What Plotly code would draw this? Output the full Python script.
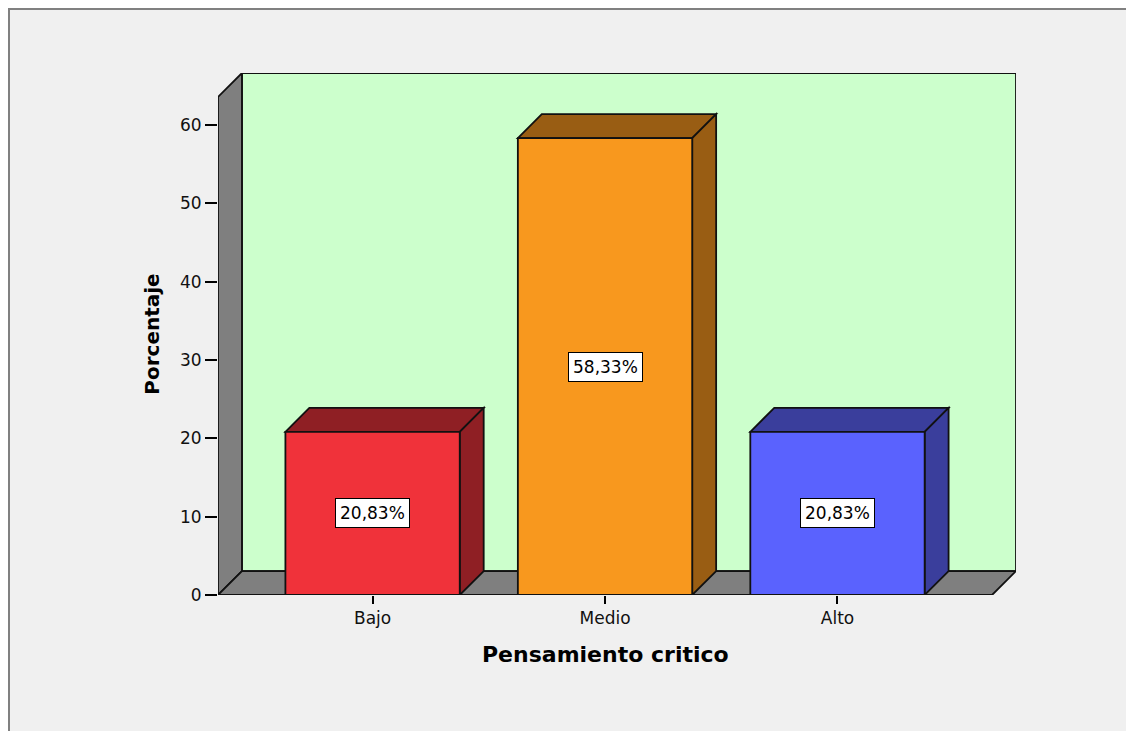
import plotly.graph_objects as go

# ---- data ----
categories = ["Bajo", "Medio", "Alto"]
percentages = [20.83, 58.33, 20.83]
value_labels = ["20,83%", "58,33%", "20,83%"]
y_ticks = [0, 10, 20, 30, 40, 50, 60]

# ---- styles ----
front_colors = ["#f0323a", "#f8981e", "#5a62fe"]
shade_colors = ["#8f1f24", "#995d13", "#3a3e9c"]
wall_color = "#ccffcc"
floor_color = "#7f7f7f"
edge = "#111111"
LW = 1.8

# 3D geometry in axis units
BAR_W = 0.75
DX = 0.103     # depth offset along x (axis units)
DY = 3.06      # depth offset along y (axis units)
X_LO, X_HI = -0.665, 2.665
Y_TOP = 66.64

W, H = 1126, 723
ML, MR, MT, MB = 210, 118, 65, 136

xpos = list(range(len(categories)))


def poly(pts):
    return "M " + " L ".join(f"{x},{y}" for x, y in pts) + " Z"


shapes = []
# outer frame (paper coords)
pw = W - ML - MR
ph = H - MT - MB
shapes.append(dict(type="rect", xref="paper", yref="paper",
                   x0=(1 - ML) / pw, x1=(W + 20 - ML) / pw,
                   y0=-(MB + 20) / ph, y1=(H - MB - 1) / ph,
                   fillcolor="#f0f0f0", line=dict(color="#808080", width=2),
                   layer="below"))
# back wall
shapes.append(dict(type="rect", xref="x", yref="y", x0=X_LO + DX, x1=X_HI + DX,
                   y0=DY, y1=Y_TOP, fillcolor=wall_color,
                   line=dict(color=edge, width=LW), layer="below"))
# left wall
shapes.append(dict(type="path", xref="x", yref="y",
                   path=poly([(X_LO, 0), (X_LO, Y_TOP - DY), (X_LO + DX, Y_TOP), (X_LO + DX, DY)]),
                   fillcolor=floor_color, line=dict(color=edge, width=LW), layer="below"))
# floor
shapes.append(dict(type="path", xref="x", yref="y",
                   path=poly([(X_LO, 0), (X_HI, 0), (X_HI + DX, DY), (X_LO + DX, DY)]),
                   fillcolor=floor_color, line=dict(color=edge, width=LW), layer="below"))
# bar top and side faces
for xc, v, sc in zip(xpos, percentages, shade_colors):
    l, r = xc - BAR_W / 2, xc + BAR_W / 2
    shapes.append(dict(type="path", xref="x", yref="y",
                       path=poly([(l, v), (l + DX, v + DY), (r + DX, v + DY), (r, v)]),
                       fillcolor=sc, line=dict(color=edge, width=LW), layer="below"))
    shapes.append(dict(type="path", xref="x", yref="y",
                       path=poly([(r, 0), (r, v), (r + DX, v + DY), (r + DX, DY)]),
                       fillcolor=sc, line=dict(color=edge, width=LW), layer="below"))

fig = go.Figure()
fig.add_trace(go.Bar(x=xpos, y=percentages, width=BAR_W,
                     marker=dict(color=front_colors, line=dict(color=edge, width=LW)),
                     hoverinfo="skip", showlegend=False))

annotations = []
for xc, v, lab in zip(xpos, percentages, value_labels):
    annotations.append(dict(x=xc, y=v / 2, xref="x", yref="y", text=lab, showarrow=False,
                            bgcolor="white", bordercolor="black", borderwidth=1, borderpad=4,
                            font=dict(family="DejaVu Sans", size=17, color="black")))
annotations.append(dict(x=xpos[1], y=0, xref="x", yref="paper", yshift=-59,
                        text="Pensamiento critico", showarrow=False, yanchor="middle",
                        font=dict(family="DejaVu Sans", size=22, color="black", weight="bold")))

fig.update_layout(
    width=W, height=H,
    margin=dict(l=ML, r=MR, t=MT, b=MB),
    paper_bgcolor="white", plot_bgcolor="rgba(0,0,0,0)",
    shapes=shapes, annotations=annotations,
    font=dict(family="DejaVu Sans", size=17, color="#111111"),
    xaxis=dict(range=[X_LO, X_HI + DX], tickvals=xpos, ticktext=categories,
               ticks="outside", ticklen=8, tickwidth=1.5, tickcolor="black",
               showgrid=False, zeroline=False, showline=False, fixedrange=True),
    yaxis=dict(range=[0, Y_TOP], tickvals=y_ticks, ticks="outside", ticklen=12,
               tickwidth=1.5, tickcolor="black", showgrid=False, zeroline=False,
               showline=False,
               title=dict(text="Porcentaje", standoff=14,
                          font=dict(family="DejaVu Sans", size=20, color="black", weight="bold"))),
)

fig.write_html("out.html")
